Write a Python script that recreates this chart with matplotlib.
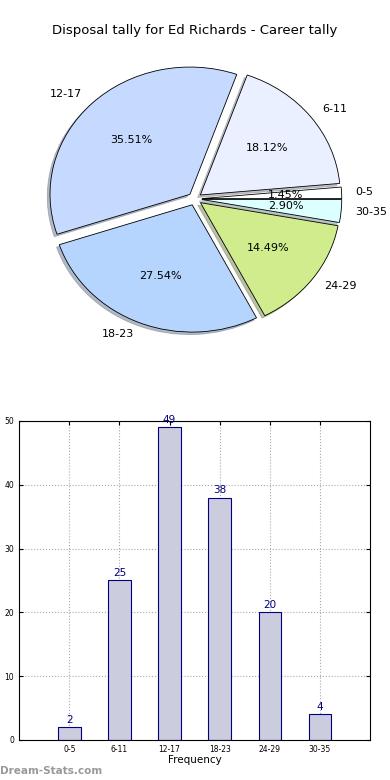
import matplotlib
matplotlib.use("Agg")
import matplotlib.pyplot as plt
import numpy as np

# Data
groups = ["0-5", "6-11", "12-17", "18-23", "24-29", "30-35"]
counts = [2, 25, 49, 38, 20, 4]
pie_colors = ["#ffffff", "#eaf0ff", "#c6d9ff", "#b5d5ff", "#d1ec8c", "#dcffff"]

fig = plt.figure(figsize=(3.9, 7.8), dpi=100)
fig.text(0.5, 0.961, "Disposal tally for Ed Richards - Career tally",
         ha="center", va="center", fontsize=9.5)

# Pie
ax1 = fig.add_axes([0.051, 0.541, 0.897, 0.408])
wedges, texts, autotexts = ax1.pie(
    counts, labels=groups, colors=pie_colors, explode=[0.05] * len(counts),
    autopct="%1.2f%%", startangle=0,
    shadow=dict(ox=-0.014, oy=-0.014, shade=0.45),
    wedgeprops=dict(edgecolor="black", linewidth=0.6),
    textprops=dict(fontsize=8))
ax1.set_aspect("auto")
ax1.set_xlim(-1.25, 1.25)
ax1.set_ylim(-1.25, 1.25)

# Bars
ax2 = fig.add_axes([0.049, 0.0513, 0.9, 0.409])
x = np.arange(len(groups))
bars = ax2.bar(x, counts, width=0.45, color="#ccccdf", edgecolor="#000080",
               linewidth=0.8, zorder=2)
for xi, c in zip(x, counts):
    ax2.text(xi, c + 0.4, str(c), ha="center", va="bottom",
             color="#000080", fontsize=7.5)
ax2.set_xlim(-1, 6)
ax2.set_ylim(0, 50)
ax2.set_xticks(x)
ax2.set_xticklabels(groups)
ax2.set_yticks([0, 10, 20, 30, 40, 50])
ax2.tick_params(labelsize=5.5, direction="in", top=True, right=True, length=3)
ax2.grid(True, linestyle=":", color="#aaaaaa", linewidth=0.8, zorder=0)
ax2.set_axisbelow(True)
ax2.set_xlabel("Frequency", fontsize=7.5, labelpad=1)

fig.text(0.0, 0.011, "Dream-Stats.com", ha="left", va="center",
         fontsize=7.5, fontweight="bold", color="#999999")

fig.savefig("out.png", dpi=100)
